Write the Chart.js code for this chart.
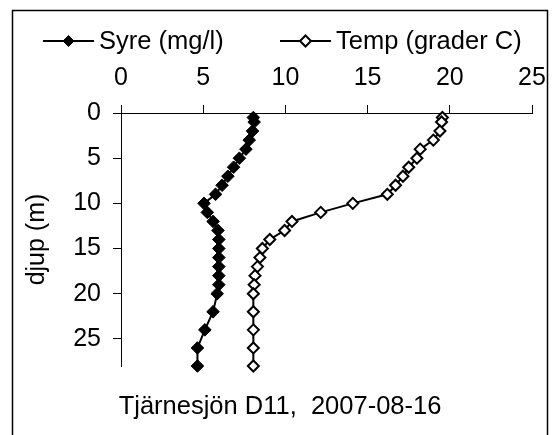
<!DOCTYPE html>
<html>
<head>
<meta charset="utf-8">
<script src="https://cdn.jsdelivr.net/npm/chart.js@4.4.1/dist/chart.umd.min.js"></script>
<style>
  html, body { margin: 0; padding: 0; background: #fff; }
  #wrap { width: 553px; height: 435px; position: relative; }
</style>
</head>
<body>
<div id="wrap"><canvas id="grafico"></canvas></div>
<script>
// djup i meter, samma för båda serierna
const depth = [0.5, 1, 2, 3, 4, 5, 6, 7, 8, 9, 10, 11, 12, 13, 14, 15, 16, 17, 18, 19, 20, 22, 24, 26, 28]
const syre = [8.05, 8.1, 8.0, 7.8, 7.6, 7.2, 6.85, 6.5, 6.15, 5.75, 5.05, 5.25, 5.6, 5.9, 5.95, 5.95, 5.95, 5.95, 5.95, 5.95, 5.85, 5.6, 5.1, 4.65, 4.65]
const temp = [19.55, 19.5, 19.4, 19.0, 18.2, 18.0, 17.5, 17.15, 16.7, 16.2, 14.1, 12.15, 10.4, 9.95, 9.05, 8.6, 8.45, 8.3, 8.15, 8.1, 8.05, 8.05, 8.05, 8.05, 8.05]

const xTicks = [0, 5, 10, 15, 20, 25]
const yTicks = [0, 5, 10, 15, 20, 25]
const labelSyre = "Syre (mg/l)"
const labelTemp = "Temp (grader C)"
const titleText = "Tjärnesjön D11,  2007-08-16"
const yTitle = "djup (m)"

const fontFam = '"Liberation Sans", Arial, sans-serif'

const grafico = document.getElementById("grafico")

// ram runt hela diagrammet
const ramPlugin = {
  id: "ram",
  beforeDraw(chart) {
    const ctx = chart.ctx
    ctx.save()
    ctx.strokeStyle = "#000"
    ctx.lineWidth = 1.5
    ctx.strokeRect(12.5, 10.5, 535, 440)
    ctx.restore()
  }
}

// legend: linje + romb + text
function diamond(ctx, x, y, r) {
  ctx.beginPath()
  ctx.moveTo(x, y - r)
  ctx.lineTo(x + r, y)
  ctx.lineTo(x, y + r)
  ctx.lineTo(x - r, y)
  ctx.closePath()
}

const legendPlugin = {
  id: "legendLinje",
  afterDraw(chart) {
    const ctx = chart.ctx
    const starts = [43, 280]
    const y = 41
    ctx.save()
    ctx.font = "25.5px " + fontFam
    ctx.textBaseline = "middle"
    ctx.textAlign = "left"
    chart.data.datasets.forEach((ds, i) => {
      const x0 = starts[i]
      ctx.strokeStyle = "#000"
      ctx.lineWidth = 2
      ctx.beginPath()
      ctx.moveTo(x0, y)
      ctx.lineTo(x0 + 51, y)
      ctx.stroke()
      diamond(ctx, x0 + 25.5, y, 5.5)
      ctx.fillStyle = ds.pointBackgroundColor
      ctx.fill()
      ctx.lineWidth = ds.pointBorderWidth
      ctx.stroke()
      ctx.fillStyle = "#000"
      ctx.fillText(ds.label, x0 + 56, y + 1)
    })
    ctx.restore()
  }
}

new Chart(grafico, {
  type: "scatter",
  data: {
    datasets: [
      {
        label: labelSyre,
        data: depth.map((d, i) => ({ x: syre[i], y: d })),
        showLine: true,
        borderColor: "#000",
        borderWidth: 2,
        pointStyle: "rectRot",
        pointRadius: 6.3,
        pointBackgroundColor: "#000",
        pointBorderColor: "#000",
        pointBorderWidth: 1,
        clip: false
      },
      {
        label: labelTemp,
        data: depth.map((d, i) => ({ x: temp[i], y: d })),
        showLine: true,
        borderColor: "#000",
        borderWidth: 2,
        pointStyle: "rectRot",
        pointRadius: 5.5,
        pointBackgroundColor: "#fff",
        pointBorderColor: "#000",
        pointBorderWidth: 2,
        clip: false
      }
    ]
  },
  options: {
    responsive: true,
    maintainAspectRatio: false,
    animation: false,
    layout: { padding: { left: 7, right: 0, top: 0, bottom: 12.4 } },
    plugins: {
      legend: { display: false },
      tooltip: { enabled: false },
      title: {
        display: true,
        text: titleText,
        position: "bottom",
        color: "#000",
        font: { family: fontFam, size: 25.5, weight: "normal" },
        padding: { top: 26, bottom: 0 }
      }
    },
    scales: {
      x: {
        type: "linear",
        position: "top",
        min: 0,
        max: 25,
        afterBuildTicks: (scale) => { scale.ticks = xTicks.map(v => ({ value: v })) },
        afterFit: (scale) => {
          scale.height = 113
          scale.paddingLeft = 0
          scale.paddingRight = 21
        },
        grid: { drawOnChartArea: false, tickLength: 8, color: "#000" },
        border: { color: "#000", width: 1 },
        ticks: {
          color: "#000",
          padding: 12,
          maxRotation: 0,
          font: { family: fontFam, size: 25 }
        }
      },
      y: {
        type: "linear",
        reverse: true,
        min: 0,
        max: 28,
        afterBuildTicks: (scale) => { scale.ticks = yTicks.map(v => ({ value: v })) },
        afterFit: (scale) => { scale.width = 114 },
        grid: { drawOnChartArea: false, tickLength: 8, color: "#000" },
        border: { color: "#000", width: 1 },
        title: {
          display: true,
          text: yTitle,
          color: "#000",
          font: { family: fontFam, size: 25 },
          padding: { top: 15.5, bottom: 0 }
        },
        ticks: {
          color: "#000",
          padding: 12,
          font: { family: fontFam, size: 25 }
        }
      }
    }
  },
  plugins: [ramPlugin, legendPlugin]
})
</script>
</body>
</html>
